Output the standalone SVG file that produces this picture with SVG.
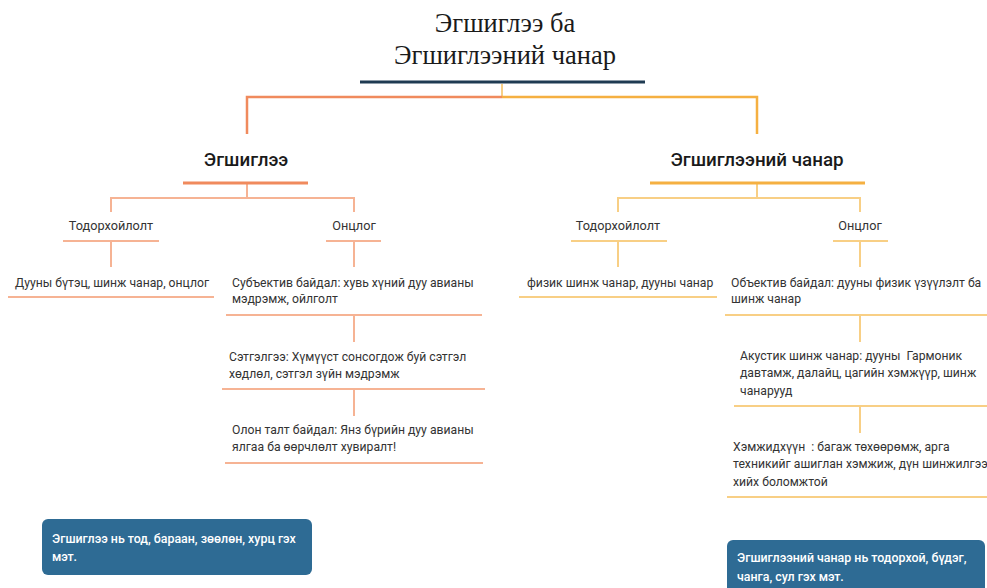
<svg xmlns="http://www.w3.org/2000/svg" width="987" height="588" viewBox="0 0 987 588">
<style>
.title{font-family:"Liberation Serif","Times New Roman",serif;font-size:26.5px;fill:#1a1a1a;text-anchor:middle}
.head{font-family:Roboto,"Liberation Sans",sans-serif;font-size:18.8px;font-weight:500;fill:#1a1a1a;text-anchor:middle}
.lbl{font-family:Roboto,"Liberation Sans",sans-serif;font-size:12.7px;fill:#333;text-anchor:middle}
.txt{font-family:Roboto,"Liberation Sans",sans-serif;font-size:12.2px;fill:#333}
.box{fill:#2e6b94}
.btxt{font-family:Roboto,"Liberation Sans",sans-serif;font-size:12.4px;font-weight:500;fill:#ffffff}
.o{stroke:#f6b394;stroke-width:2;fill:none}
.oh{stroke:#f08a5d;stroke-width:3;fill:none}
.y{stroke:#f8cf85;stroke-width:2;fill:none}
.yh{stroke:#f5b041;stroke-width:3;fill:none}
.dk{stroke:#1f3b52;stroke-width:3;fill:none}
</style>

<g id="root">
<text class="title" x="505" y="32">Эгшиглээ ба</text>
<text class="title" x="505" y="64">Эгшиглээний чанар</text>
<line class="dk" x1="360" y1="82" x2="645" y2="82"/>
</g>

<g id="connectors">
<path class="y" d="M502 84 V97"/>
<path class="oh" style="stroke-width:2.5" d="M502 97 H247 V134"/>
<path class="yh" style="stroke-width:2.5" d="M502 97 H757 V134"/>
<path class="o" d="M247 184 V198 M111 212 V198 H354 V212"/>
<path class="o" d="M111 242 V267 M354 242 V267 M354 316 V342 M354 390 V416"/>
<path class="y" d="M757 184 V198 M618 212 V198 H860 V212"/>
<path class="y" d="M618 242 V267 M860 242 V267 M860 316 V342 M860 407 V433"/>
</g>

<g id="eg">
<text class="head" x="246" y="166">Эгшиглээ</text>
<line class="oh" x1="183" y1="183" x2="308" y2="183"/>
</g>

<g id="egch">
<text class="head" x="757" y="166">Эгшиглээний чанар</text>
<line class="yh" x1="650" y1="183" x2="865" y2="183"/>
</g>

<g id="eg-tod">
<text class="lbl" x="111" y="230">Тодорхойлолт</text>
<line class="o" x1="63" y1="241" x2="159" y2="241"/>
</g>

<g id="eg-onc">
<text class="lbl" x="354" y="230">Онцлог</text>
<line class="o" x1="326" y1="241" x2="381" y2="241"/>
</g>

<g id="eg-tod-1">
<text class="txt" x="15" y="287">Дууны бүтэц, шинж чанар, онцлог</text>
<line class="o" x1="8" y1="297" x2="214" y2="297"/>
</g>

<g id="eg-onc-1">
<text class="txt" x="232" y="287">Субъектив байдал: хувь хүний дуу авианы</text>
<text class="txt" x="232" y="303">мэдрэмж, ойлголт</text>
<line class="o" x1="226" y1="315" x2="482" y2="315"/>
</g>

<g id="eg-onc-2">
<text class="txt" x="229" y="361">Сэтгэлгээ: Хүмүүст сонсогдож буй сэтгэл</text>
<text class="txt" x="229" y="378">хөдлөл, сэтгэл зүйн мэдрэмж</text>
<line class="o" x1="222" y1="389" x2="485" y2="389"/>
</g>

<g id="eg-onc-3">
<text class="txt" x="232" y="434">Олон талт байдал: Янз бүрийн дуу авианы</text>
<text class="txt" x="232" y="451">ялгаа ба өөрчлөлт хувиралт!</text>
<line class="o" x1="225" y1="463" x2="483" y2="463"/>
</g>

<g id="ch-tod">
<text class="lbl" x="618" y="230">Тодорхойлолт</text>
<line class="y" x1="571" y1="241" x2="667" y2="241"/>
</g>

<g id="ch-onc">
<text class="lbl" x="860" y="230">Онцлог</text>
<line class="y" x1="833" y1="241" x2="888" y2="241"/>
</g>

<g id="ch-tod-1">
<text class="txt" x="527" y="287">физик шинж чанар, дууны чанар</text>
<line class="y" x1="519" y1="297" x2="717" y2="297"/>
</g>

<g id="ch-onc-1">
<text class="txt" x="731" y="287">Объектив байдал: дууны физик үзүүлэлт ба</text>
<text class="txt" x="731" y="303">шинж чанар</text>
<line class="y" x1="725" y1="315" x2="990" y2="315"/>
</g>

<g id="ch-onc-2">
<text class="txt" x="740" y="360" xml:space="preserve">Акустик шинж чанар: дууны  Гармоник</text>
<text class="txt" x="740" y="377">давтамж, далайц, цагийн хэмжүүр, шинж</text>
<text class="txt" x="740" y="395">чанарууд</text>
<line class="y" x1="734" y1="406" x2="990" y2="406"/>
</g>

<g id="ch-onc-3">
<text class="txt" x="733" y="451" xml:space="preserve">Хэмжидхүүн  : багаж төхөөрөмж, арга</text>
<text class="txt" x="733" y="468">техникийг ашиглан хэмжиж, дүн шинжилгээ</text>
<text class="txt" x="733" y="486">хийх боломжтой</text>
<line class="y" x1="727" y1="497" x2="990" y2="497"/>
</g>

<g id="note-left">
<rect class="box" x="42" y="519" width="270" height="56" rx="6"/>
<text class="btxt" x="52" y="543">Эгшиглээ нь тод, бараан, зөөлөн, хурц гэх</text>
<text class="btxt" x="52" y="561">мэт.</text>
</g>

<g id="note-right">
<rect class="box" x="727" y="540" width="258" height="60" rx="6"/>
<text class="btxt" x="737" y="562">Эгшиглээний чанар нь тодорхой, бүдэг,</text>
<text class="btxt" x="737" y="581">чанга, сул гэх мэт.</text>
</g>
</svg>
